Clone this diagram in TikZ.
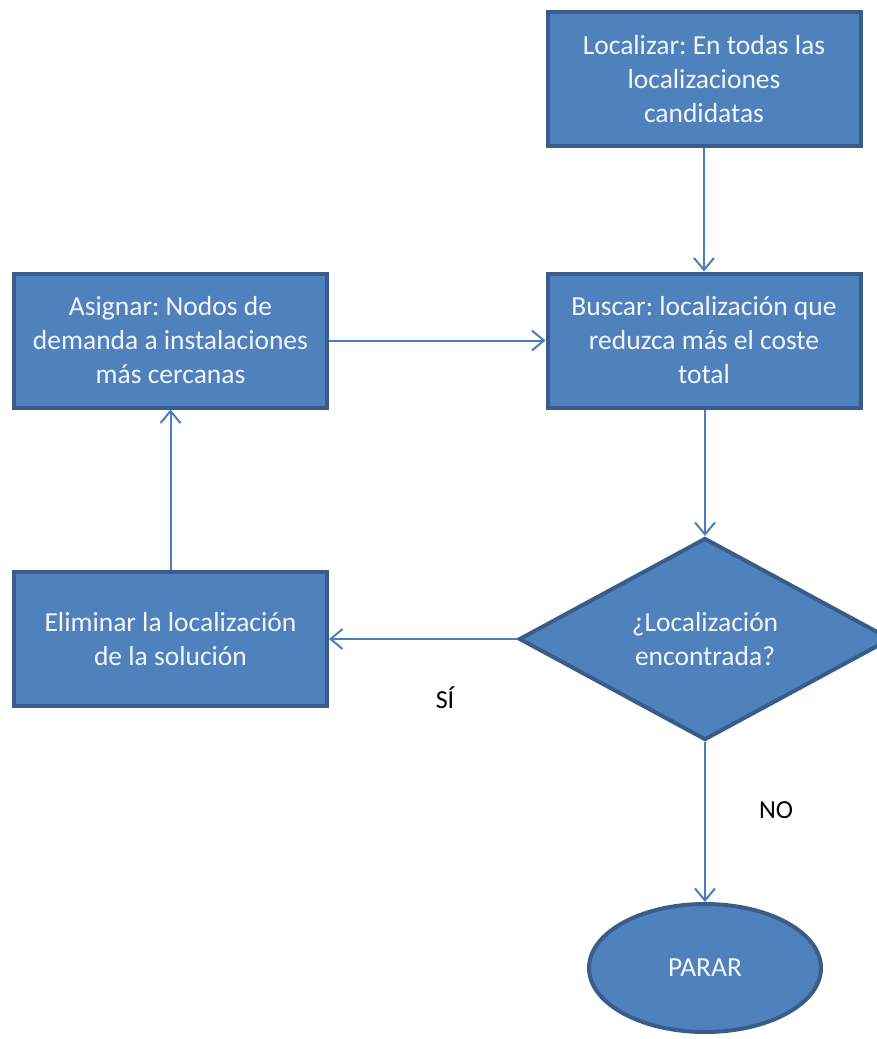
\documentclass[tikz,border=0pt]{standalone}
\usepackage{fontspec}
\setmainfont{Carlito}
\usetikzlibrary{shapes.geometric,arrows.meta}
\definecolor{boxfill}{HTML}{4F81BD}
\definecolor{boxline}{HTML}{385D8A}
\definecolor{arrowcol}{HTML}{4A7EBB}
\definecolor{boxtext}{HTML}{F2F5FA}
\frenchspacing
\tikzset{
  x=1pt,y=-1pt,
  procbox/.style={rectangle, draw=boxline, fill=boxfill, line width=4pt,
    minimum width=313pt, minimum height=134pt, inner sep=0pt,
    text=boxtext, align=center, font=\fontsize{27.5}{34}\selectfont},
  decbox/.style={diamond, draw=boxline, fill=boxfill, line width=4pt,
    minimum width=372pt, minimum height=202pt, inner sep=0pt, aspect=1.84,
    text=boxtext, align=center, font=\fontsize{27.5}{34}\selectfont},
  endbox/.style={ellipse, draw=boxline, fill=boxfill, line width=4pt,
    minimum width=232pt, minimum height=128pt, inner sep=0pt,
    text=boxtext, align=center, font=\fontsize{27.5}{34}\selectfont},
  conn/.style={draw=arrowcol, line width=2pt,
    -{Straight Barb[length=12pt,width=20pt,line width=2pt]}},
  lbl/.style={text=black, font=\fontsize{26}{32}\selectfont, inner sep=0pt}
}
\begin{document}
\begin{tikzpicture}
\useasboundingbox (0,0) rectangle (876,1039);
\node[procbox] (loc) at (704,79) {Localizar: En todas las\\localizaciones\\candidatas};
\node[procbox] (bus) at (704,340.5) {Buscar: localización que\\reduzca más el coste\\total};
\node[procbox] (asi) at (170.5,340.5) {Asignar: Nodos de\\demanda a instalaciones\\más cercanas};
\node[procbox] (eli) at (170.5,639) {Eliminar la localización\\de la solución};
\node[decbox] (dec) at (705,639) {¿Localización\\encontrada?};
\node[endbox] (stop) at (705,968) {PARAR};
\node[lbl] (si) at (445,698) {SÍ};
\node[lbl] (no) at (776,810) {NO};
\draw[conn] (loc.south) -- (bus.north);
\draw[conn] (asi.east) -- (bus.west);
\draw[conn] (bus.south -| dec.north) -- (dec.north);
\draw[conn] (dec.west) -- (eli.east);
\draw[conn] (eli.north) -- (asi.south);
\draw[conn] (dec.south) -- (stop.north);
\end{tikzpicture}
\end{document}
